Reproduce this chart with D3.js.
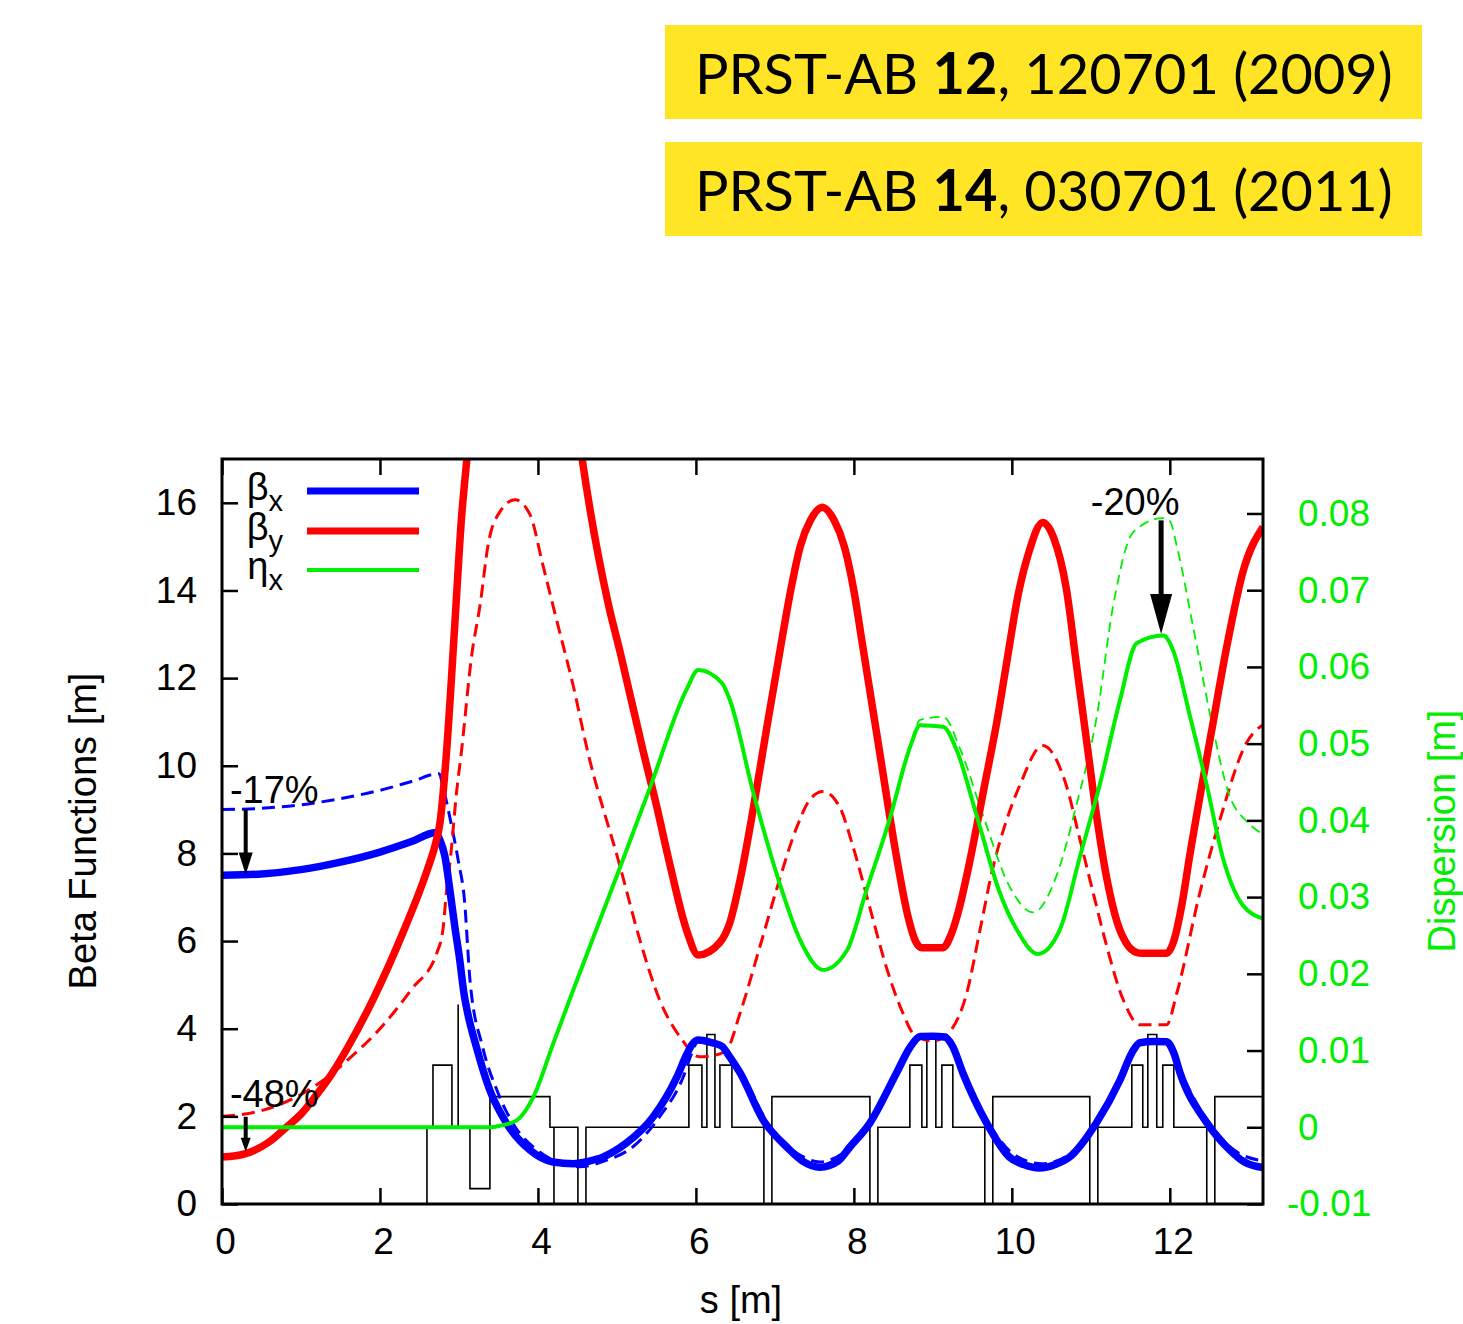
<!DOCTYPE html>
<html><head><meta charset="utf-8">
<script src="https://cdn.jsdelivr.net/npm/d3@7"></script>
<style>
html,body{margin:0;padding:0;background:#fff;}
svg text{font-family:"Liberation Sans", Arial, Helvetica, sans-serif;}
</style></head>
<body>
<svg id="chart" width="1463" height="1324"></svg>
<script>
// ---------------- DATA ----------------
const xTicks = [0, 2, 4, 6, 8, 10, 12];
const yTicks = [0, 2, 4, 6, 8, 10, 12, 14, 16];
const y2Ticks = [-0.01, 0, 0.01, 0.02, 0.03, 0.04, 0.05, 0.06, 0.07, 0.08];

// beta_x new (solid)
const betaX = [[0,7.50],[0.5,7.53],[1.0,7.63],[1.5,7.80],[2.0,8.03],[2.4,8.27],[2.7,8.47],[2.76,8.30],[2.82,7.95],[2.89,7.1],[2.95,6.3],[3.01,5.57],[3.06,4.85],[3.11,4.36],[3.22,3.59],[3.39,2.6],[3.6,1.85],[3.9,1.23],[4.19,0.96],[4.45,0.92],[4.65,0.98],[4.82,1.07],[5.12,1.39],[5.46,1.99],[5.76,2.9],[5.88,3.4],[5.96,3.66],[6.03,3.74],[6.2,3.68],[6.33,3.6],[6.42,3.38],[6.56,2.99],[6.85,1.92],[7.15,1.3],[7.35,0.98],[7.57,0.84],[7.8,0.98],[7.95,1.3],[8.2,1.84],[8.54,2.99],[8.72,3.6],[8.84,3.82],[9.0,3.83],[9.15,3.81],[9.25,3.6],[9.38,2.99],[9.68,1.85],[9.97,1.07],[10.15,0.9],[10.35,0.82],[10.55,0.9],[10.73,1.07],[11.07,1.85],[11.37,2.83],[11.52,3.45],[11.62,3.68],[11.8,3.71],[11.96,3.7],[12.05,3.45],[12.13,2.99],[12.47,1.85],[12.76,1.23],[12.95,0.95],[13.18,0.83]];
// beta_x old (dashed)
const betaXOld = [[0,9.0],[0.5,9.03],[1.0,9.11],[1.5,9.25],[2.0,9.44],[2.4,9.64],[2.75,9.82],[2.8,9.5],[2.91,8.6],[2.99,7.85],[3.08,6.71],[3.11,5.87],[3.14,5.1],[3.3,3.58],[3.48,2.6],[3.68,1.85],[3.99,1.23],[4.28,0.94],[4.53,0.85],[4.87,1.0],[5.2,1.3],[5.54,1.99],[5.84,2.9],[5.95,3.45],[6.03,3.72],[6.2,3.68],[6.33,3.6],[6.42,3.4],[6.58,2.99],[6.94,1.75],[7.28,1.16],[7.57,0.96],[7.86,1.16],[8.2,1.8],[8.54,2.95],[8.72,3.6],[8.84,3.82],[9.0,3.83],[9.15,3.81],[9.25,3.6],[9.4,2.95],[9.72,1.8],[10.05,1.1],[10.38,0.92],[10.7,1.1],[11.05,1.8],[11.37,2.8],[11.52,3.45],[11.62,3.68],[11.8,3.71],[11.96,3.7],[12.05,3.45],[12.15,2.99],[12.5,1.85],[12.8,1.25],[13.18,0.98]];
// beta_y new (solid)
const betaY = [[0,1.07],[0.3,1.15],[0.6,1.42],[0.82,1.76],[1.0,2.05],[1.18,2.45],[1.39,2.97],[1.6,3.6],[1.91,4.66],[2.29,6.19],[2.6,7.63],[2.7,8.2],[2.76,8.7],[2.84,10.25],[2.95,13.3],[3.03,15.6],[3.11,17.2],[3.25,20.5],[3.5,24.0],[3.85,25.5],[4.2,22.5],[4.56,17.0],[4.89,13.7],[5.04,12.6],[5.33,10.35],[5.5,9.1],[5.67,7.75],[5.88,6.26],[6.03,5.68],[6.3,5.96],[6.43,6.42],[6.56,7.4],[6.73,9.06],[6.9,10.9],[7.1,13.0],[7.2,14.0],[7.32,15.0],[7.45,15.6],[7.6,15.9],[7.75,15.6],[7.88,15.0],[8.0,14.0],[8.1,12.87],[8.33,10.27],[8.54,7.92],[8.68,6.6],[8.78,6.0],[8.86,5.85],[9.13,5.85],[9.22,6.1],[9.32,6.65],[9.43,7.5],[9.66,9.6],[9.81,11.0],[9.93,12.3],[10.08,13.9],[10.22,14.9],[10.39,15.55],[10.53,15.2],[10.69,14.04],[10.82,12.28],[10.95,10.52],[11.08,8.77],[11.2,7.45],[11.33,6.45],[11.45,5.95],[11.58,5.74],[11.65,5.72],[11.96,5.72],[12.05,6.0],[12.15,6.8],[12.25,7.92],[12.53,10.8],[12.73,12.8],[12.93,14.45],[13.18,15.45]];
// beta_y old (dashed)
const betaYOld = [[0,2.0],[0.5,2.13],[1.0,2.5],[1.3,2.85],[1.6,3.3],[2.0,4.0],[2.4,4.9],[2.72,5.73],[2.8,6.3],[2.84,7.1],[2.89,7.85],[2.97,9.4],[3.03,10.3],[3.16,12.5],[3.27,13.7],[3.37,15.05],[3.52,15.8],[3.71,16.07],[3.9,15.73],[4.06,14.6],[4.24,13.3],[4.45,11.8],[4.62,10.4],[5.04,7.7],[5.29,6.03],[5.54,4.66],[5.8,3.81],[6.05,3.36],[6.25,3.4],[6.39,3.52],[6.56,4.36],[6.81,5.87],[7.02,7.17],[7.28,8.61],[7.44,9.22],[7.61,9.41],[7.82,9.06],[7.99,8.15],[8.2,6.78],[8.41,5.41],[8.62,4.36],[8.77,3.85],[9.0,3.72],[9.22,3.95],[9.43,4.82],[9.6,6.28],[9.76,7.67],[9.93,8.74],[10.1,9.55],[10.39,10.46],[10.69,9.55],[10.86,8.33],[11.03,7.1],[11.2,5.89],[11.41,4.66],[11.62,4.09],[11.96,4.09],[12.09,4.82],[12.38,7.1],[12.63,8.74],[12.97,10.52],[13.18,10.94]];
// eta_x new (solid), right axis
const etaX = [[0,0],[3.4,0],[3.52,0.0002],[3.73,0.0009],[3.94,0.0039],[4.19,0.0108],[4.44,0.0177],[5.04,0.0339],[5.42,0.0443],[5.88,0.057],[6.03,0.0596],[6.33,0.0579],[6.43,0.0557],[6.72,0.0439],[7.06,0.0318],[7.32,0.0244],[7.61,0.0205],[7.91,0.023],[8.16,0.0309],[8.46,0.0404],[8.71,0.0495],[8.84,0.0524],[9.13,0.0522],[9.3,0.0492],[9.55,0.0408],[9.85,0.0305],[10.06,0.0258],[10.33,0.0226],[10.61,0.0258],[10.86,0.0352],[11.11,0.0445],[11.37,0.0557],[11.58,0.0631],[11.92,0.0641],[12.04,0.0622],[12.25,0.0538],[12.47,0.0445],[12.67,0.0352],[12.92,0.029],[13.18,0.0272]];
// eta_x old (dashed)
const etaXOld = [[8.46,0.0404],[8.71,0.0497],[8.84,0.0531],[9.13,0.0535],[9.35,0.0492],[9.63,0.0408],[9.97,0.0314],[10.27,0.028],[10.57,0.0329],[10.82,0.0421],[11.08,0.0538],[11.28,0.0678],[11.54,0.0776],[11.91,0.0794],[12.0,0.079],[12.09,0.0757],[12.29,0.0655],[12.51,0.0538],[12.76,0.0431],[12.97,0.0399],[13.18,0.0382]];
// magnet lattice: [s start, s end, height on dispersion axis]
const lattice = [[2.595,2.595,-0.02],[2.671,2.911,0.0081],[2.99,2.99,0.016],[3.139,3.392,-0.008],[3.392,4.152,0.004],[4.203,4.203,-0.02],[4.506,4.608,-0.02],[5.911,6.076,0.0081],[6.139,6.241,0.0121],[6.304,6.456,0.0081],[6.861,6.962,-0.02],[6.962,8.203,0.004],[8.203,8.304,-0.02],[8.709,8.861,0.0081],[8.924,9.038,0.0121],[9.114,9.253,0.0081],[9.658,9.759,-0.02],[9.759,10.987,0.004],[10.987,11.089,-0.02],[11.519,11.658,0.0081],[11.722,11.835,0.0121],[11.911,12.051,0.0081],[12.468,12.570,-0.02],[12.570,13.4,0.004]];
// annotations (value change arrows)
const arrowLabels = ["-17%", "-48%", "-20%"];
const arrowS = [0.30, 0.30, 11.89];
const arrowFrom = [9.0, 1.99, 0.0791];
const arrowTo = [7.52, 1.19, 0.0643];
const refs = [["PRST-AB ", "12", ", 120701 (2009)"], ["PRST-AB ", "14", ", 030701 (2011)"]];

// ---------------- DRAW ----------------
const svg = d3.select("#chart");
const P = {left:222, right:1263, top:459, bottom:1204};
const x = d3.scaleLinear().domain([0, 13.18]).range([P.left, P.right]);
const y = d3.scaleLinear().domain([0, 17]).range([P.bottom, P.top]);
const y2 = d3.scaleLinear().domain([-0.01, 0.0871]).range([P.bottom, P.top]);

// reference boxes
const boxY = [25, 142];
refs.forEach((parts, i) => {
  svg.append("rect").attr("x", 665).attr("y", boxY[i]).attr("width", 757).attr("height", 94).attr("fill", "#FFE526");
  const t = svg.append("text").attr("x", 0).attr("y", 0)
    .style("font-family", "Lato, 'Open Sans', sans-serif").style("font-size", "57px").attr("fill", "#000");
  t.append("tspan").text(parts[0]);
  t.append("tspan").style("font-weight", "bold").text(parts[1]);
  t.append("tspan").text(parts[2]);
  const w = t.node().getComputedTextLength();
  const sx = 698 / w;
  t.attr("transform", `translate(695,${boxY[i] + 69}) scale(${sx},1)`);
});

svg.append("clipPath").attr("id", "clip").append("rect")
  .attr("x", P.left).attr("y", P.top).attr("width", P.right - P.left).attr("height", P.bottom - P.top);
const g = svg.append("g").attr("clip-path", "url(#clip)");

// lattice
const latPts = [[0, 0]];
lattice.forEach(([a, b, h]) => { latPts.push([a, 0], [a, h], [b, h], [b, 0]); });
latPts.push([13.4, 0]);
g.append("path").attr("d", d3.line().x(d => x(d[0])).y(d => y2(d[1]))(latPts))
  .attr("fill", "none").attr("stroke", "#000").attr("stroke-width", 1.6);

const lineY = d3.line().x(d => x(d[0])).y(d => y(d[1])).curve(d3.curveMonotoneX);
const lineY2 = d3.line().x(d => x(d[0])).y(d => y2(d[1])).curve(d3.curveMonotoneX);

function draw(gen, data, color, width, dash) {
  const p = g.append("path").attr("d", gen(data)).attr("fill", "none").attr("stroke", color)
    .attr("stroke-width", width).attr("stroke-linejoin", "round");
  if (dash) p.attr("stroke-dasharray", dash);
}
draw(lineY, betaXOld, "#0000ff", 3, "13,7");
draw(lineY, betaYOld, "#ff0000", 3, "13,7");
draw(lineY2, etaXOld, "#00ee00", 1.8, "10,6");
draw(lineY, betaX, "#0000ff", 7.5);
draw(lineY, betaY, "#ff0000", 7.5);
draw(lineY2, etaX, "#00ee00", 4);

// axes
const fs = "37px";
const ax = svg.append("g").attr("transform", `translate(0,${P.bottom})`)
  .call(d3.axisBottom(x).tickValues(xTicks).tickSizeInner(-16).tickSizeOuter(0).tickPadding(24).tickFormat(d3.format("d")));
const axT = svg.append("g").attr("transform", `translate(0,${P.top})`)
  .call(d3.axisTop(x).tickValues(xTicks).tickSizeInner(-16).tickSizeOuter(0).tickFormat(""));
const ay = svg.append("g").attr("transform", `translate(${P.left},0)`)
  .call(d3.axisLeft(y).tickValues(yTicks).tickSizeInner(-16).tickSizeOuter(0).tickPadding(25).tickFormat(d3.format("d")));
const ay2 = svg.append("g").attr("transform", `translate(${P.right},0)`)
  .call(d3.axisRight(y2).tickValues(y2Ticks).tickSizeInner(-16).tickSizeOuter(0).tickPadding(35)
    .tickFormat(d => d === 0 ? "0" : d3.format(".2f")(d).replace("\u2212", "-")));
[ax, axT, ay, ay2].forEach(a => {
  a.select(".domain").remove();
  a.selectAll(".tick line").attr("stroke", "#000").attr("stroke-width", 2.5);
  a.selectAll("text").style("font-family", "'Liberation Sans', Arial, sans-serif").style("font-size", fs).attr("fill", "#000");
});
ax.selectAll("text").attr("dx", 3);
ay2.selectAll("text").attr("fill", "#00ee00").attr("x", d => d < 0 ? 24 : 35);

svg.append("rect").attr("x", P.left).attr("y", P.top).attr("width", P.right - P.left).attr("height", P.bottom - P.top)
  .attr("fill", "none").attr("stroke", "#000").attr("stroke-width", 3);

// axis titles
svg.append("text").attr("transform", `translate(96,831) rotate(-90)`).attr("text-anchor", "middle")
  .style("font-size", "38px").text("Beta Functions [m]");
svg.append("text").attr("transform", `translate(1455,831) rotate(-90)`).attr("text-anchor", "middle")
  .style("font-size", "38px").attr("fill", "#00ee00").text("Dispersion [m]");
svg.append("text").attr("x", 741).attr("y", 1313).attr("text-anchor", "middle")
  .style("font-size", "38px").text("s [m]");

// legend
const legNames = [["\u03B2", "x"], ["\u03B2", "y"], ["\u03B7", "x"]];
const legColors = ["#0000ff", "#ff0000", "#00ee00"];
const legWidths = [7, 7, 4];
const legY = [491, 531, 570];
legNames.forEach((n, i) => {
  svg.append("line").attr("x1", 307).attr("x2", 419).attr("y1", legY[i]).attr("y2", legY[i])
    .attr("stroke", legColors[i]).attr("stroke-width", legWidths[i]);
  const t = svg.append("text").attr("x", 283).attr("y", legY[i] + 9).attr("text-anchor", "end").style("font-size", "38px");
  t.append("tspan").text(n[0]);
  t.append("tspan").attr("dy", 11).style("font-size", "29px").text(n[1]);
});

// arrows
arrowLabels.forEach((lab, i) => {
  const sc = i === 2 ? y2 : y;
  const ax0 = x(arrowS[i]);
  const yf = sc(arrowFrom[i]), yt = sc(arrowTo[i]);
  const hl = [22, 14, 40][i], hw = [14, 10, 22][i], sw = [4, 4, 5][i];
  svg.append("line").attr("x1", ax0).attr("x2", ax0).attr("y1", yf).attr("y2", yt - hl + 2)
    .attr("stroke", "#000").attr("stroke-width", sw);
  svg.append("path").attr("d", `M${ax0},${yt} L${ax0 - hw / 2},${yt - hl} L${ax0 + hw / 2},${yt - hl} Z`).attr("fill", "#000");
  const tx = i === 2 ? x(11.0) : x(0.1);
  const ty = yf - (i === 2 ? 5 : (i === 0 ? 7 : 10));
  svg.append("text").attr("x", tx).attr("y", ty).style("font-size", "38px").text(lab);
});
</script>
</body></html>
